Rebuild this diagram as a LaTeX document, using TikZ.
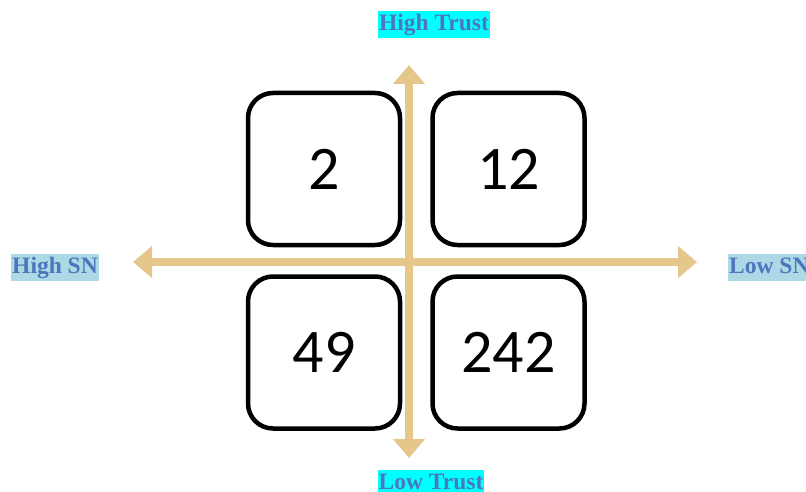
\documentclass[tikz,border=0pt]{standalone}
\usepackage{fontspec}
\usepackage{xcolor}
\usetikzlibrary{arrows.meta, positioning}
\newfontfamily\labelfont{Liberation Serif}
\newfontfamily\countfont{Carlito}
\definecolor{axisTan}{RGB}{229,199,140}
\definecolor{labelBlue}{RGB}{78,118,188}
\definecolor{trustCyan}{RGB}{0,255,255}
\definecolor{snBlue}{RGB}{173,216,230}
\tikzset{
    countbox/.style={
        rectangle,
        draw=black,
        line width=4.5pt,
        rounded corners=25pt,
        align=center,
        fill=white,
        minimum width=152pt,
        minimum height=152pt,
        font=\countfont\fontsize{62}{70}\selectfont
    },
    axislabel/.style={
        rectangle,
        inner xsep=1pt,
        inner ysep=2.5pt,
        text height=17pt,
        text depth=5pt,
        text=labelBlue,
        font=\labelfont\bfseries\fontsize{23.5}{26}\selectfont
    },
    trustlabel/.style={axislabel, fill=trustCyan},
    snlabel/.style={axislabel, fill=snBlue},
    axisarrow/.style={-{Triangle[width=31pt,length=19pt]}, line width=8pt, draw=axisTan}
}
\begin{document}
\begin{tikzpicture}[x=1pt, y=-1pt, node distance=27pt and 28pt]
        \useasboundingbox (0,0) rectangle (806,492);
        % axes
        \coordinate (mid) at (409,262);
        \coordinate (trustTop) at (409,65);
        \coordinate (trustBottom) at (409,458);
        \coordinate (snLeft) at (133,262);
        \coordinate (snRight) at (697,262);
        \draw[axisarrow] (mid) -- (trustTop);
        \draw[axisarrow] (mid) -- (trustBottom);
        \draw[axisarrow] (mid) -- (snLeft);
        \draw[axisarrow] (mid) -- (snRight);

        % quadrant counts
        \node[countbox] (hsht) at (324,169) {2};
        \node[countbox, right=of hsht] (lsht) {12};
        \node[countbox, below=of hsht] (hslt) {49};
        \node[countbox, below=of lsht] (lslt) {242};

        % axis labels
        \node[trustlabel] (hightrust) at (434,25) {High Trust};
        \node[trustlabel, anchor=north] (lowtrust) at (431,470) {Low Trust};
        \node[snlabel] (highsn) at (55,267) {High SN};
        \node[snlabel, anchor=west] (lowsn) at (728,267) {Low SN};
    \end{tikzpicture}
\end{document}
